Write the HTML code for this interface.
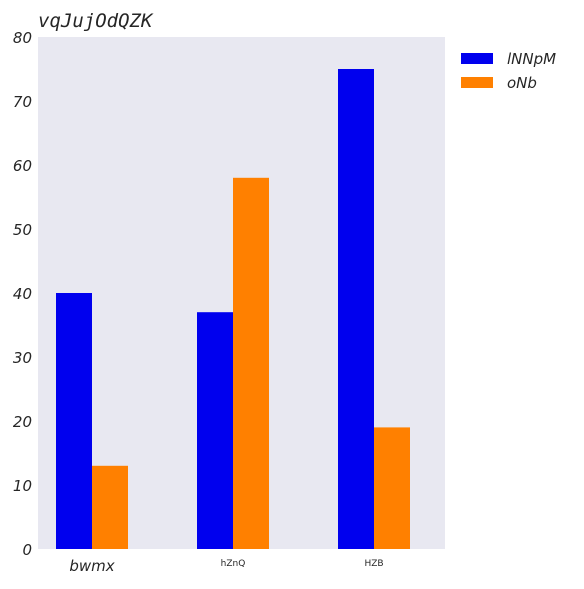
<!DOCTYPE html>
<html><head><meta charset="utf-8"><style>
body{margin:0;background:#fff;width:584px;height:584px;overflow:hidden}
svg text{fill:#262626}
</style></head><body>
<svg id="c" width="584" height="584" xmlns="http://www.w3.org/2000/svg">
<rect x="38" y="37" width="407" height="512" fill="#e8e8f1"/>
<text x="38" y="27" font-family="DejaVu Sans Mono, monospace" font-style="italic" font-size="19">vqJujOdQZK</text>
<g id="yt"></g><g id="bars"></g><g id="xt"></g>
<g>
<rect x="461" y="53" width="32" height="11" fill="#0000ee"/>
<text x="507" y="64" font-family="DejaVu Sans, sans-serif" font-style="italic" font-size="15">lNNpM</text>
<rect x="461" y="77" width="32" height="11" fill="#ff8000"/>
<text x="507" y="88" font-family="DejaVu Sans, sans-serif" font-style="italic" font-size="15">oNb</text>
</g>
</svg>
<script>
const categories=["bwmx","hZnQ","HZB"];
const seriesA=[40,37,75];
const seriesB=[13,58,19];
const yTicks=[0,10,20,30,40,50,60,70,80];
const NS="http://www.w3.org/2000/svg";
const y=v=>549-v*6.4;
const xc=i=>92+i*141;
function mk(t,a,p){const e=document.createElementNS(NS,t);for(const k in a)e.setAttribute(k,a[k]);document.getElementById(p).appendChild(e);return e;}
yTicks.forEach(v=>{const t=mk('text',{x:32,y:y(v)+6,'text-anchor':'end','font-family':'DejaVu Sans, sans-serif','font-style':'italic','font-size':'15'},'yt');t.textContent=v;

});
categories.forEach((c,i)=>{
const a=mk('rect',{x:xc(i)-36,y:y(seriesA[i]),width:36,height:549-y(seriesA[i]),fill:'#0000ee'},'bars');


const b=mk('rect',{x:xc(i),y:y(seriesB[i]),width:36,height:549-y(seriesB[i]),fill:'#ff8000'},'bars');


const big=i===0;
const t=mk('text',{x:xc(i),y:big?571:566,'text-anchor':'middle','font-family':'DejaVu Sans, sans-serif','font-style':big?'italic':'normal','font-size':big?15:9},'xt');t.textContent=c;


});
</script>
</body></html>
